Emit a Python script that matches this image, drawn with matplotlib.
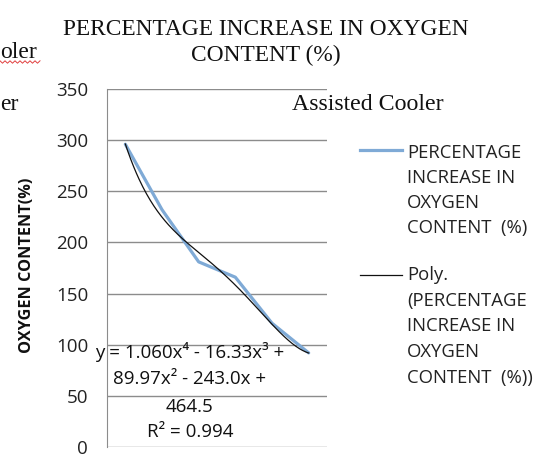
import numpy as np
import matplotlib
matplotlib.use("Agg")
import matplotlib.pyplot as plt
from matplotlib.lines import Line2D

# ---- data ----
categories = [1, 2, 3, 4, 5, 6]
oxygen_increase = [296, 232, 181, 166, 121, 92]
poly_coeffs = [1.060, -16.33, 89.97, -243.0, 464.5]  # x^4 .. x^0
y_ticks = [0, 50, 100, 150, 200, 250, 300, 350]

title_lines = ["PERCENTAGE INCREASE IN OXYGEN", "CONTENT (%)"]
ylabel = "OXYGEN CONTENT(%)"
eq_lines = ["y = 1.060x\u2074 - 16.33x\u00b3 +", "89.97x\u00b2 - 243.0x +", "464.5", "R\u00b2 = 0.994"]
legend_1 = ["PERCENTAGE", "INCREASE IN", "OXYGEN", "CONTENT  (%)"]
legend_2 = ["Poly.", "(PERCENTAGE", "INCREASE IN", "OXYGEN", "CONTENT  (%))"]

W, H = 536, 459
fig = plt.figure(figsize=(W / 100, H / 100), dpi=100)
fig.patch.set_facecolor("white")

def fx(px):
    return px / W

def fy(py):
    return 1 - py / H

sans = ["Open Sans", "DejaVu Sans"]
serif = "Liberation Serif"

ax = fig.add_axes([fx(107), fy(447), fx(327) - fx(107), fy(89) - fy(447)])
ax.set_xlim(0.5, 6.5)
ax.set_ylim(0, 350)
ax.set_yticks(y_ticks)
ax.set_xticks([])
ax.yaxis.grid(True, color="#8c8c8c", linewidth=1.0)
ax.set_axisbelow(True)
for s in ["top", "right", "bottom"]:
    ax.spines[s].set_visible(False)
ax.spines["left"].set_color("#8c8c8c")
ax.tick_params(axis="y", length=0, pad=13.5, labelsize=13.5, labelcolor="#222222")
for lab in ax.get_yticklabels():
    lab.set_fontfamily("Open Sans")

blue = "#7faad6"
ax.plot(categories, oxygen_increase, color=blue, linewidth=2.3,
        solid_capstyle="round", solid_joinstyle="round", zorder=3)
xs = np.linspace(categories[0], categories[-1], 200)
ax.plot(xs, np.polyval(poly_coeffs, xs), color="#111111", linewidth=0.9, zorder=4)

fig.text(fx(27), fy(265), ylabel, rotation=90, fontsize=11.7, fontweight="bold",
         family="Open Sans", ha="center", va="center", color="#111111")

# title
fig.text(fx(266), fy(35), title_lines[0], ha="center", va="baseline", fontsize=16.8,
         family=serif, color="#111111")
fig.text(fx(266), fy(61), title_lines[1], ha="center", va="baseline", fontsize=16.8,
         family=serif, color="#111111")
fig.text(fx(368), fy(110), "Assisted Cooler", ha="center", va="baseline", fontsize=17.2,
         family=serif, color="#111111")

# partially visible neighbouring text
fig.text(fx(0), fy(58), "oler", ha="left", va="baseline", fontsize=17,
         family=serif, color="#111111")
fig.text(fx(0), fy(110), "er", ha="left", va="baseline", fontsize=17,
         family=serif, color="#111111")
zz_x = np.arange(0, 41, 2.5)
zz_y = 62 + np.where(np.arange(len(zz_x)) % 2 == 0, -1.2, 1.2)
fig.add_artist(Line2D(fx(zz_x), fy(zz_y), color="#e04040", linewidth=0.7))

# equation
eq_y = [358, 384, 412, 437]
for line, yy in zip(eq_lines, eq_y):
    fig.text(fx(190), fy(yy), line, ha="center", va="baseline", fontsize=13.5,
             family=sans, color="#111111")

# legend
fig.add_artist(Line2D([fx(360), fx(402)], [fy(150), fy(150)], color=blue, linewidth=2.3))
for i, t in enumerate(legend_1):
    fig.text(fx(407), fy(158 + i * 25), t, ha="left", va="baseline", fontsize=13.3,
             family=sans, color="#222222")
fig.add_artist(Line2D([fx(360), fx(402)], [fy(275), fy(275)], color="#111111", linewidth=0.9))
for i, t in enumerate(legend_2):
    fig.text(fx(407), fy(280 + i * 25.7), t, ha="left", va="baseline", fontsize=13.3,
             family=sans, color="#222222")

fig.savefig("out.png", dpi=100, facecolor="white")
